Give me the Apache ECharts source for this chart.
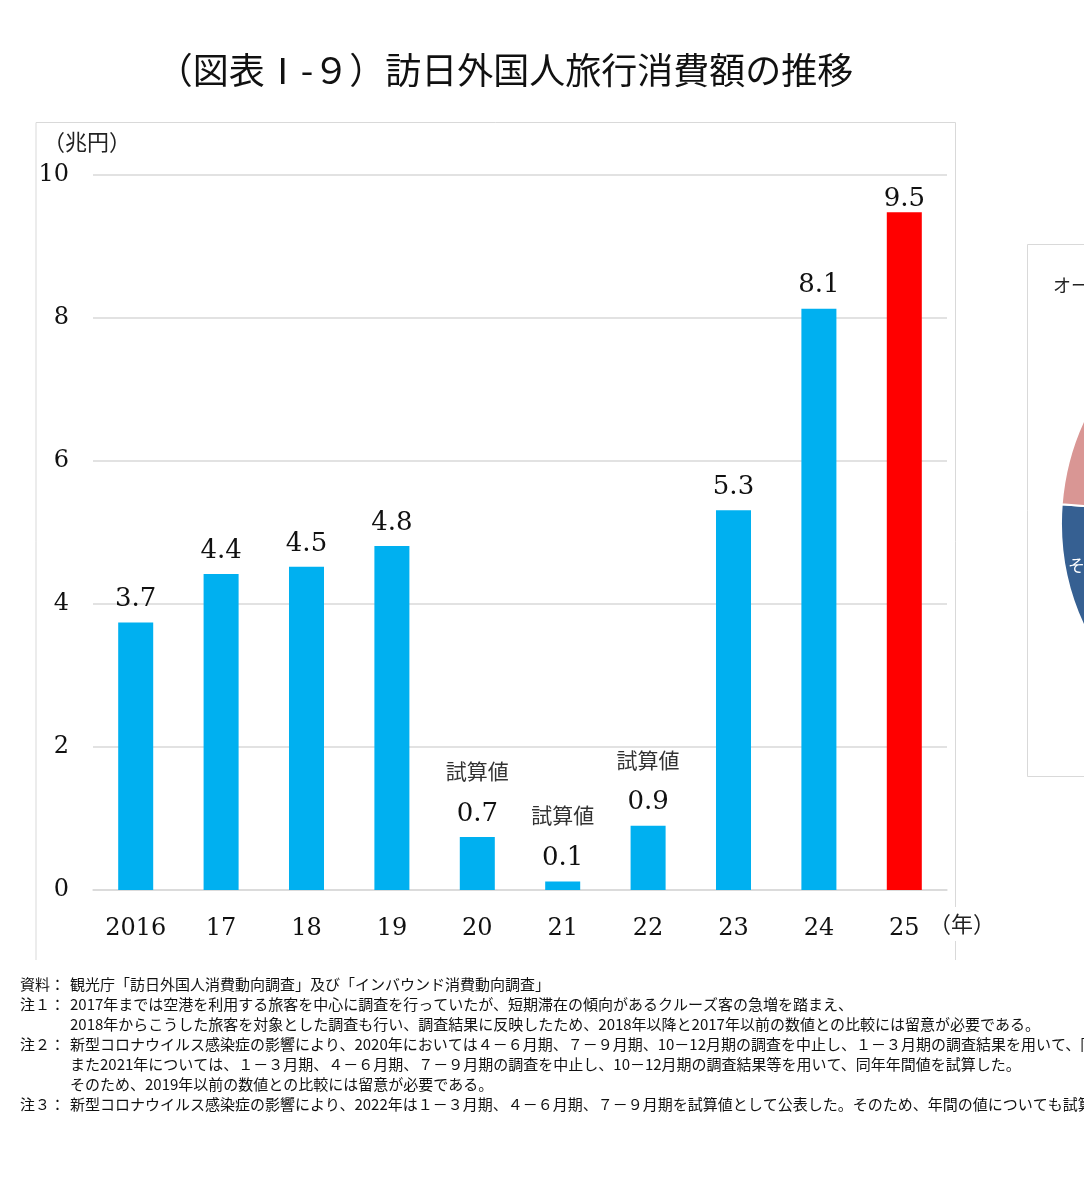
<!DOCTYPE html>
<html>
<head>
<meta charset="utf-8">
<script src="https://cdn.jsdelivr.net/npm/echarts@6/dist/echarts.min.js"></script>
<style>
  html, body { margin: 0; padding: 0; background: #fff; }
  #chart { width: 1084px; height: 1193px; }
</style>
</head>
<body>
<div id="chart"></div>
<script>
// 訪日外国人旅行消費額（兆円）
const categories = ['2016', '17', '18', '19', '20', '21', '22', '23', '24', '25'];
const spending = [3.74, 4.42, 4.52, 4.81, 0.74, 0.12, 0.90, 5.31, 8.13, 9.48];
const estimated = [false, false, false, false, true, true, true, false, false, false];
const yTicks = [0, 2, 4, 6, 8, 10];

// 右側にはみ出している円グラフ（見えている部分だけ）
const pieNames = ['その他', '（図外）', '（図外の残り）'];
const pieShares = [9.0, 7.1, 83.9];

const notePrefixes = ['資料：', '注１：', '', '注２：', '', '', '注３：'];
const noteLines = [
  '観光庁「訪日外国人消費動向調査」及び「インバウンド消費動向調査」',
  '2017年までは空港を利用する旅客を中心に調査を行っていたが、短期滞在の傾向があるクルーズ客の急増を踏まえ、',
  '2018年からこうした旅客を対象とした調査も行い、調査結果に反映したため、2018年以降と2017年以前の数値との比較には留意が必要である。',
  '新型コロナウイルス感染症の影響により、2020年においては４－６月期、７－９月期、10－12月期の調査を中止し、１－３月期の調査結果を用いて、同年年間値を試算した。',
  'また2021年については、１－３月期、４－６月期、７－９月期の調査を中止し、10－12月期の調査結果等を用いて、同年年間値を試算した。',
  'そのため、2019年以前の数値との比較には留意が必要である。',
  '新型コロナウイルス感染症の影響により、2022年は１－３月期、４－６月期、７－９月期を試算値として公表した。そのため、年間の値についても試算値である。'
];

const serif = '"DejaVu Serif", "Liberation Serif", serif';
const sans = '"Noto Sans CJK JP", "Noto Sans", sans-serif';

const chart = echarts.init(document.getElementById('chart'));

const graphics = [
  {
    type: 'text', x: 505, y: 70, z: 10,
    style: { text: '（図表Ⅰ-９）訪日外国人旅行消費額の推移', font: '36px ' + sans, fill: '#111', align: 'center', verticalAlign: 'middle' }
  },
  {
    type: 'polyline', z: 0,
    shape: { points: [[36, 960], [36, 122.5], [955.5, 122.5], [955.5, 960]] },
    style: { stroke: '#d9d9d9', lineWidth: 1, fill: null }
  },
  {
    type: 'polyline', z: 0,
    shape: { points: [[1084, 244.5], [1027.5, 244.5], [1027.5, 776.5], [1084, 776.5]] },
    style: { stroke: '#d9d9d9', lineWidth: 1, fill: null }
  },
  {
    type: 'text', x: 43, y: 142, z: 10,
    style: { text: '（兆円）', font: '22px ' + sans, fill: '#222', verticalAlign: 'middle' }
  },
  {
    type: 'text', x: 929, y: 924, z: 10,
    style: { text: '（年）', font: '22px ' + sans, fill: '#222', verticalAlign: 'middle', backgroundColor: '#fff', padding: [6, 0] }
  },
  {
    type: 'text', x: 1053, y: 285, z: 10,
    style: { text: 'オーストラリア', font: '18px ' + sans, fill: '#222', verticalAlign: 'middle' }
  },
  {
    type: 'text', x: 1068, y: 566, z: 10,
    style: { text: 'その他', font: '17px ' + sans, fill: '#fff', verticalAlign: 'middle' }
  }
];

noteLines.forEach((line, i) => {
  const y = 984 + i * 20;
  if (notePrefixes[i]) {
    graphics.push({
      type: 'text', x: 20, y: y,
      style: { text: notePrefixes[i], font: '15px ' + sans, fill: '#111', verticalAlign: 'middle' }
    });
  }
  graphics.push({
    type: 'text', x: 70, y: y,
    style: { text: line, font: '15px ' + sans, fill: '#111', verticalAlign: 'middle' }
  });
});

chart.setOption({
  animation: false,
  backgroundColor: '#fff',
  grid: { left: 93, right: 137, top: 175, bottom: 303, containLabel: false },
  xAxis: {
    type: 'category',
    data: categories,
    axisLine: { lineStyle: { color: '#d9d9d9', width: 1.5 } },
    axisTick: { show: false },
    axisLabel: { color: '#111', fontFamily: serif, fontSize: 24, margin: 27 }
  },
  yAxis: {
    type: 'value',
    min: yTicks[0],
    max: yTicks[yTicks.length - 1],
    interval: yTicks[1] - yTicks[0],
    axisLine: { show: false },
    axisTick: { show: false },
    axisLabel: { color: '#111', fontFamily: serif, fontSize: 24, margin: 24, padding: [6, 0, 0, 0] },
    splitLine: { lineStyle: { color: '#d9d9d9', width: 1.5 } }
  },
  series: [
    {
      type: 'bar',
      barWidth: '41%',
      data: spending.map((v, i) => ({
        value: v,
        itemStyle: { color: i === spending.length - 1 ? '#ff0000' : '#00b0f0' },
        label: {
          show: true,
          position: 'top',
          // 最後の棒はグラフ上端に近いので、Excel同様ラベルが棒に寄っている
          distance: i === spending.length - 1 ? -1 : 9,
          formatter: estimated[i] ? '{n|試算値}\n{v|' + v.toFixed(1) + '}' : '{v|' + v.toFixed(1) + '}',
          rich: {
            n: { fontFamily: sans, fontSize: 21, color: '#333', lineHeight: 58 },
            v: { fontFamily: serif, fontSize: 26, color: '#111', lineHeight: 28 }
          }
        }
      }))
    },
    {
      type: 'pie',
      center: [1305, 523],
      radius: 244,
      startAngle: 208,
      clockwise: true,
      silent: true,
      label: { show: false },
      labelLine: { show: false },
      itemStyle: { borderColor: '#fff', borderWidth: 2 },
      data: pieNames.map((name, i) => ({
        name: name,
        value: pieShares[i],
        itemStyle: { color: ['#366092', '#d99694', '#a6a6a6'][i] }
      }))
    }
  ],
  graphic: graphics
});
</script>
</body>
</html>
